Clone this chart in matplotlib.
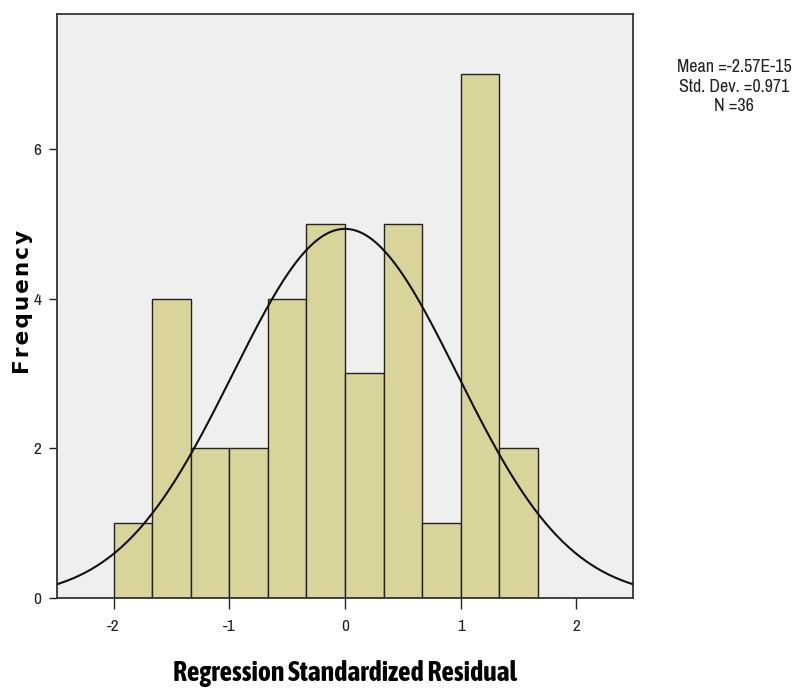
import numpy as np
import matplotlib.pyplot as plt
from matplotlib import font_manager

# histogram of regression standardized residuals (SPSS style)
bin_edges = [-2.0, -5/3, -4/3, -1.0, -2/3, -1/3, 0.0, 1/3, 2/3, 1.0, 4/3, 5/3]
counts = [1, 4, 2, 2, 4, 5, 3, 5, 1, 7, 2]
x_ticks = [-2, -1, 0, 1, 2]
y_ticks = [0, 2, 4, 6]
mean = -2.57e-15
std = 0.971
n = 36


def _w(f):
    w = f.weight
    if isinstance(w, str):
        w = font_manager.weight_dict.get(w, 400)
    return w


# prefer a narrow sans if one happens to be installed
fonts = font_manager.fontManager.ttflist
narrow = sorted({f.name for f in fonts if 'Narrow' in f.name or 'Condensed' in f.name})
fam = narrow[0] if narrow else "Liberation Sans"
narrow_bold = sorted({f.name for f in fonts
                      if ('Narrow' in f.name or 'Condensed' in f.name) and _w(f) >= 600})
plt.rcParams['font.family'] = [fam, 'DejaVu Sans']

fig = plt.figure(figsize=(7.96, 6.9), dpi=100)
ax = fig.add_axes([0.0716, 0.1333, 0.7236, 0.8464])
ax.set_facecolor('#efefef')

widths = np.diff(bin_edges)
ax.bar(bin_edges[:-1], counts, width=widths, align='edge',
       color='#d8d49a', edgecolor='#222222', linewidth=1.0, zorder=2)

xs = np.linspace(-2.5, 2.5, 400)
bw = widths[0]
ys = n * bw / (std * np.sqrt(2 * np.pi)) * np.exp(-0.5 * ((xs - mean) / std) ** 2)
ax.plot(xs, ys, color='#111111', linewidth=1.5, zorder=3)

ax.set_xlim(-2.49, 2.49)
ax.set_ylim(0, 7.8)
ax.set_xticks(x_ticks)
ax.set_yticks(y_ticks)
ax.set_xticklabels([str(t) for t in x_ticks], fontsize=12.5)
ax.set_yticklabels([str(t) for t in y_ticks], fontsize=12.5)
ax.tick_params(axis='x', direction='out', length=8, width=1, colors='#222222', pad=7)
ax.tick_params(axis='y', direction='out', length=6, width=1, colors='#222222', pad=5)

for s in ax.spines.values():
    s.set_color('#333333')
    s.set_linewidth(1.3)

if narrow_bold:
    ax.set_xlabel('Regression Standardized Residual', fontsize=20, fontweight='bold',
                  family=[narrow_bold[0], 'DejaVu Sans'], labelpad=19)
else:
    ax.set_xlabel('Regression Standardized Residual', fontsize=15.5, fontweight='bold',
                  family=['Liberation Sans', 'DejaVu Sans'], labelpad=22)
ax.set_ylabel('\u200a'.join('Frequency'), fontsize=15.5, fontweight='bold', family='DejaVu Sans')
ax.yaxis.set_label_coords(-0.041, 0.507)

fig.text(0.922, 0.914, 'Mean =-2.57E-15\nStd. Dev. =0.971\nN =36',
         ha='center', va='top', fontsize=13, linespacing=1.25, color='#222222')

fig.savefig('out.png', dpi=100)
